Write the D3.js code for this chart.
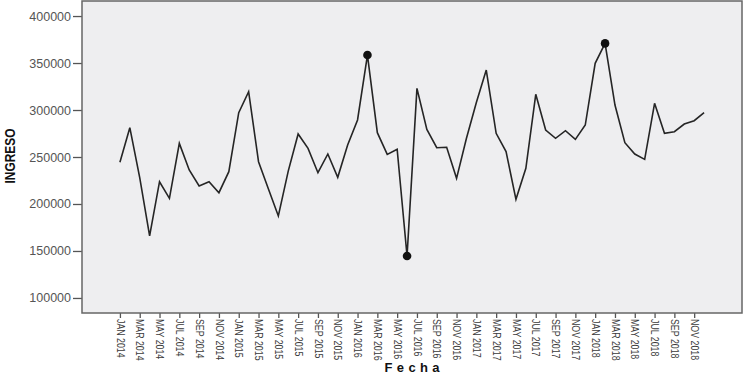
<!DOCTYPE html>
<html>
<head>
  <meta charset="utf-8">
  <title>Ingreso por fecha</title>
  <script src="https://d3js.org/d3.v7.min.js"></script>
  <style>
    body { margin: 0; background: #fff; }
    .eje text { font-family: Arial, "Liberation Sans", sans-serif; fill: #3a3a3a; }
    .eje line { stroke: #555; stroke-width: 1.3; }
    .linea { fill: none; stroke: #252525; stroke-width: 1.6; }
  </style>
</head>
<body>
<div id="grafico"></div>
<script>
"use strict"

// meses (enero 2014 a diciembre 2018)
var fechas = [
  "JAN 2014","FEB 2014","MAR 2014","APR 2014","MAY 2014","JUN 2014","JUL 2014","AUG 2014","SEP 2014","OCT 2014","NOV 2014","DEC 2014",
  "JAN 2015","FEB 2015","MAR 2015","APR 2015","MAY 2015","JUN 2015","JUL 2015","AUG 2015","SEP 2015","OCT 2015","NOV 2015","DEC 2015",
  "JAN 2016","FEB 2016","MAR 2016","APR 2016","MAY 2016","JUN 2016","JUL 2016","AUG 2016","SEP 2016","OCT 2016","NOV 2016","DEC 2016",
  "JAN 2017","FEB 2017","MAR 2017","APR 2017","MAY 2017","JUN 2017","JUL 2017","AUG 2017","SEP 2017","OCT 2017","NOV 2017","DEC 2017",
  "JAN 2018","FEB 2018","MAR 2018","APR 2018","MAY 2018","JUN 2018","JUL 2018","AUG 2018","SEP 2018","OCT 2018","NOV 2018","DEC 2018"
];

var ingreso = [
  244400, 281200, 228000, 166000, 223700, 206000, 264500, 236200, 219100, 223700, 212000, 234400,
  297100, 319500, 245000, 216000, 187200, 235000, 274500, 259200, 233300, 253200, 228400, 262800,
  289400, 358500, 275900, 252800, 258200, 144700, 323000, 279400, 259900, 260300, 227300, 270000,
  308000, 342500, 275200, 255700, 205000, 238000, 316700, 278700, 269900, 278000, 268800, 284000,
  349700, 370900, 305300, 265200, 253200, 247500, 307100, 275200, 276900, 285100, 288600, 297100
];

// etiquetas del eje x (cada dos meses)
var etiquetasX = [
  "JAN 2014","MAR 2014","MAY 2014","JUL 2014","SEP 2014","NOV 2014",
  "JAN 2015","MAR 2015","MAY 2015","JUL 2015","SEP 2015","NOV 2015",
  "JAN 2016","MAR 2016","MAY 2016","JUL 2016","SEP 2016","NOV 2016",
  "JAN 2017","MAR 2017","MAY 2017","JUL 2017","SEP 2017","NOV 2017",
  "JAN 2018","MAR 2018","MAY 2018","JUL 2018","SEP 2018","NOV 2018"
];

var etiquetasY = [100000, 150000, 200000, 250000, 300000, 350000, 400000];

// puntos marcados (máximos y mínimo)
var marcados = ["FEB 2016", "JUN 2016", "FEB 2018"];

var datos = fechas.map((f, i) => ({fecha: f, valor: ingreso[i]}));

var larguraSVG = 744, alturaSVG = 376;
var margin = {top: 1, right: 2, bottom: 63, left: 82};
var larguraVis = larguraSVG - margin.left - margin.right,
    alturaVis = alturaSVG - margin.top - margin.bottom;

var svg = d3.select("#grafico")
  .append("svg")
  .attr("width", larguraSVG)
  .attr("height", alturaSVG);

var grafico = svg.append("g")
  .attr("transform", "translate(" + margin.left + "," + margin.top + ")");

var x = d3.scalePoint()
  .domain(fechas)
  .range([0, larguraVis])
  .padding(3.83);

var y = d3.scaleLinear()
  .domain([84000, 416000])
  .range([alturaVis, 0]);

// fondo del área
grafico.append("rect")
  .attr("width", larguraVis)
  .attr("height", alturaVis)
  .attr("fill", "#eeeef0");

var ejeY = grafico.append("g")
  .attr("class", "eje")
  .call(d3.axisLeft(y).tickValues(etiquetasY).tickSize(9).tickPadding(2).tickFormat(d3.format("d")));
ejeY.select(".domain").remove();
ejeY.selectAll("text").style("font-size", "12.5px").style("fill", "#555");

var ejeX = grafico.append("g")
  .attr("class", "eje")
  .attr("transform", "translate(0," + alturaVis + ")")
  .call(d3.axisBottom(x).tickValues(etiquetasX).tickSize(5));
ejeX.select(".domain").remove();
// etiquetas verticales, letra estrecha
ejeX.selectAll("text")
  .style("font-size", "11px")
  .style("text-anchor", "start")
  .attr("dy", "0.35em")
  .attr("transform", "translate(0,6) rotate(90) scale(0.8,1)")
  .attr("x", 0)
  .attr("y", 0);

// línea
grafico.append("path")
  .datum(datos)
  .attr("class", "linea")
  .attr("d", d3.line().x(d => x(d.fecha)).y(d => y(d.valor)));

grafico.selectAll(".punto")
  .data(datos.filter(d => marcados.indexOf(d.fecha) >= 0))
  .enter()
  .append("circle")
  .attr("class", "punto")
  .attr("cx", d => x(d.fecha))
  .attr("cy", d => y(d.valor))
  .attr("r", 4.3)
  .attr("fill", "#111");

// marco
grafico.append("rect")
  .attr("width", larguraVis)
  .attr("height", alturaVis)
  .attr("fill", "none")
  .attr("stroke", "#666")
  .attr("stroke-width", 1.5);

// títulos
svg.append("text")
  .attr("transform", "translate(15,156) rotate(-90)")
  .attr("text-anchor", "middle")
  .attr("textLength", 55)
  .attr("lengthAdjust", "spacingAndGlyphs")
  .style("font-family", "Arial, 'Liberation Sans', sans-serif")
  .style("font-weight", "bold")
  .style("font-size", "15px")
  .style("fill", "#111")
  .text("INGRESO");

svg.append("text")
  .attr("x", margin.left + larguraVis / 2)
  .attr("y", 372)
  .attr("text-anchor", "middle")
  .attr("textLength", 55)
  .attr("lengthAdjust", "spacing")
  .style("font-family", "Arial, 'Liberation Sans', sans-serif")
  .style("font-weight", "bold")
  .style("font-size", "13px")
  .style("fill", "#111")
  .text("Fecha");
</script>
</body>
</html>
